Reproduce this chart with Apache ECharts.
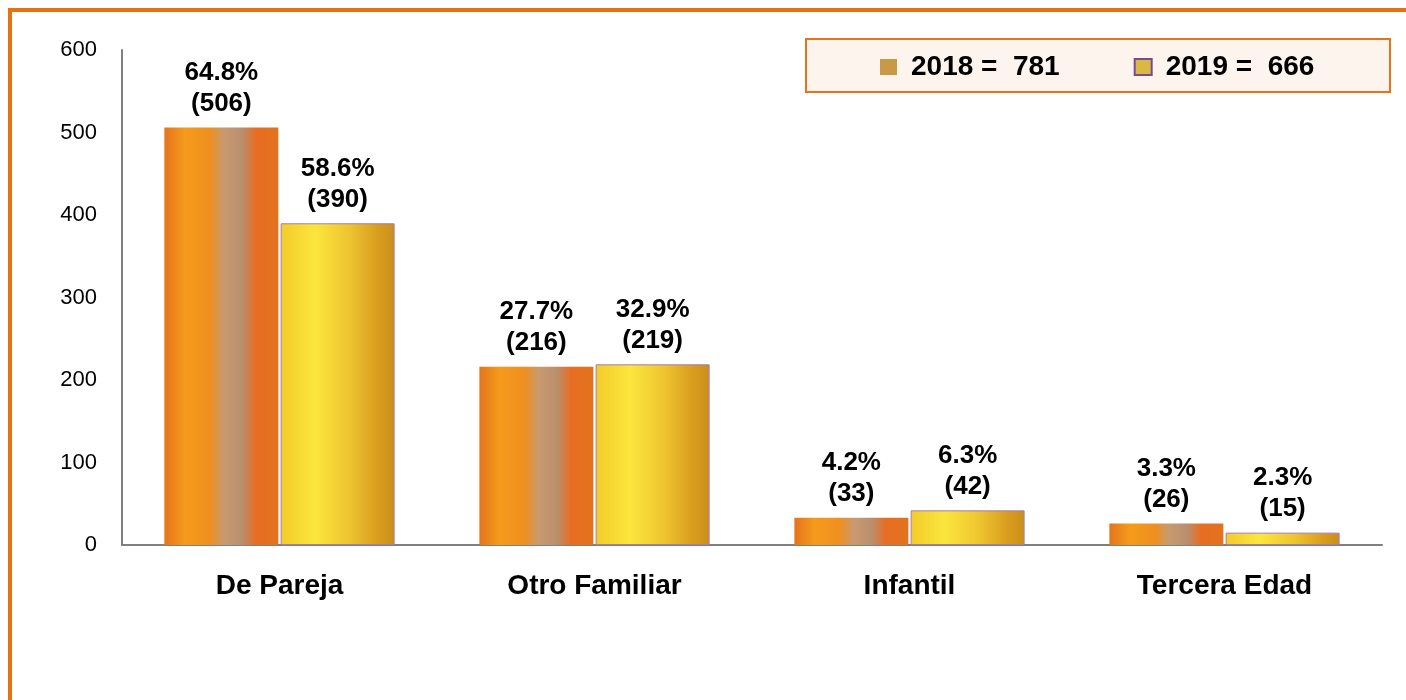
<!DOCTYPE html>
<html>
<head>
<meta charset="utf-8">
<script src="https://cdn.jsdelivr.net/npm/echarts@6/dist/echarts.min.js"></script>
<style>
  html, body { margin: 0; padding: 0; background: #fff; }
  #chart { width: 1406px; height: 700px; }
</style>
</head>
<body>
<div id="chart"></div>
<script>
var categories = ['De Pareja', 'Otro Familiar', 'Infantil', 'Tercera Edad'];
var years = ['2018', '2019'];
var values2018 = [506, 216, 33, 26];
var values2019 = [390, 219, 42, 15];
var pct2018 = ['64.8%', '27.7%', '4.2%', '3.3%'];
var pct2019 = ['58.6%', '32.9%', '6.3%', '2.3%'];
var totals = { '2018': 781, '2019': 666 };
var yTicks = [0, 100, 200, 300, 400, 500, 600];

const chart = echarts.init(document.getElementById('chart'));

function grad(stops) {
    return new echarts.graphic.LinearGradient(0, 0, 1, 0, stops);
}

// wood-like orange for 2018, golden for 2019
var fill2018 = grad([
    { offset: 0, color: '#e5741c' },
    { offset: 0.18, color: '#f59b1b' },
    { offset: 0.4, color: '#ef8f20' },
    { offset: 0.52, color: '#c89a70' },
    { offset: 0.68, color: '#b98f6e' },
    { offset: 0.8, color: '#e86d24' },
    { offset: 1, color: '#e2731e' }
]);
var fill2019 = grad([
    { offset: 0, color: '#f3cb2a' },
    { offset: 0.3, color: '#fbe63c' },
    { offset: 0.6, color: '#eec530' },
    { offset: 0.85, color: '#d99d1e' },
    { offset: 1, color: '#c98f1a' }
]);

var font = '"Liberation Sans", Arial, sans-serif';

var labelBase = {
    show: true,
    position: 'top',
    distance: 8,
    color: '#000',
    fontFamily: font,
    fontWeight: 'bold',
    fontSize: 26,
    lineHeight: 31
};

var option = {
    animation: false,
    backgroundColor: '#fff',
    grid: { left: 122, right: 24, top: 50, bottom: 155 },
    graphic: [
        { type: 'line', shape: { x1: 8, y1: 10, x2: 1406, y2: 10 }, style: { stroke: '#e8700f', lineWidth: 4 } },
        { type: 'line', shape: { x1: 10, y1: 8, x2: 10, y2: 700 }, style: { stroke: '#e8700f', lineWidth: 4 } },
        { type: 'rect', shape: { x: 806, y: 39, width: 584, height: 53 }, style: { fill: '#fdf4ee', stroke: '#e8731a', lineWidth: 2 }, z: 0 }
    ],
    legend: {
        data: [
            { name: '2018', itemStyle: { color: '#c99a45' } },
            { name: '2019', itemStyle: { color: '#d9b944', borderColor: '#7a4a90', borderWidth: 2 } }
        ],
        left: 880,
        top: 53,
        padding: 0,
        icon: 'rect',
        itemWidth: 17,
        itemHeight: 16,
        itemGap: 74,
        z: 5,
        formatter: function (name) { return name + ' =  ' + totals[name]; },
        textStyle: {
            color: '#000',
            fontFamily: font,
            fontWeight: 'bold',
            fontSize: 28,
            padding: [0, 0, 0, 9]
        }
    },
    xAxis: {
        type: 'category',
        data: categories,
        axisLine: { lineStyle: { color: '#808080', width: 2 } },
        axisTick: { show: false },
        axisLabel: {
            margin: 27,
            color: '#000',
            fontFamily: font,
            fontWeight: 'bold',
            fontSize: 28
        }
    },
    yAxis: {
        type: 'value',
        min: yTicks[0],
        max: yTicks[yTicks.length - 1],
        interval: 100,
        axisLine: { show: true, lineStyle: { color: '#808080', width: 2 } },
        axisTick: { show: false },
        splitLine: { show: false },
        axisLabel: {
            margin: 25,
            color: '#000',
            fontFamily: font,
            fontSize: 22
        }
    },
    series: [
        {
            name: years[0],
            type: 'bar',
            data: values2018,
            barWidth: 114,
            barGap: '2%',
            itemStyle: { color: fill2018 },
            label: Object.assign({}, labelBase, {
                formatter: function (p) { return pct2018[p.dataIndex] + '\n(' + p.value + ')'; }
            })
        },
        {
            name: years[1],
            type: 'bar',
            data: values2019,
            barWidth: 114,
            itemStyle: { color: fill2019, borderColor: '#a77bb8', borderWidth: 1 },
            label: Object.assign({}, labelBase, {
                formatter: function (p) { return pct2019[p.dataIndex] + '\n(' + p.value + ')'; }
            })
        }
    ]
};
option && chart.setOption(option);
</script>
</body>
</html>
